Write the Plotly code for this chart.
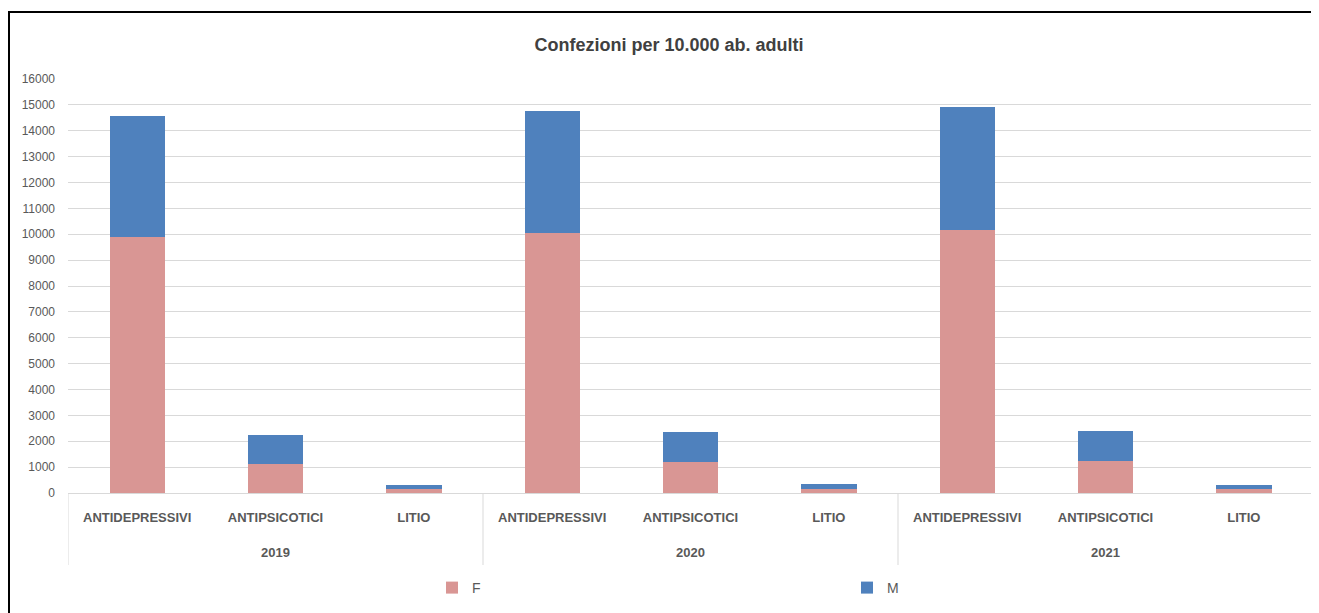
import plotly.graph_objects as go

years = ["2019", "2019", "2019", "2020", "2020", "2020", "2021", "2021", "2021"]
categories = ["ANTIDEPRESSIVI", "ANTIPSICOTICI", "LITIO"] * 3
f_values = [9900, 1130, 160, 10050, 1200, 150, 10160, 1225, 150]
m_values = [4670, 1110, 150, 4730, 1150, 195, 4755, 1185, 160]
year_labels = ["2019", "2020", "2021"]
y_ticks = list(range(0, 16001, 1000))

x_keys = [f"{y} {c}" for y, c in zip(years, categories)]
year_keys = [x_keys[years.index(y) + 1] for y in year_labels]

# page is drawn with an 8px body margin; work in figure coordinates
W, H = 1311, 605
L, R, T = 60, 6, 71
AXIS2_Y = 535          # figure y of the (invisible) year axis line
PLOT_BOTTOM = 485      # figure y of value 0
B = H - AXIS2_Y
ph = AXIS2_Y - T
dom0 = (AXIS2_Y - PLOT_BOTTOM) / ph
pw = W - L - R

def px2x(p):
    return (p - 8 - L) / pw

def px2y(p):
    return (AXIS2_Y - (p - 8)) / ph

font_fam = "Liberation Sans, Arial, sans-serif"

fig = go.Figure()
fig.add_trace(go.Bar(x=x_keys, y=f_values, name="F",
                     marker=dict(color="#d99694", line=dict(width=0))))
fig.add_trace(go.Bar(x=x_keys, y=m_values, name="M",
                     marker=dict(color="#4f81bd", line=dict(width=0))))
fig.add_trace(go.Scatter(x=x_keys, y=[0] * len(x_keys), xaxis="x2", mode="markers",
                         marker=dict(opacity=0), showlegend=False, hoverinfo="skip"))

# group dividers
for xb in [-0.5, 2.5, 5.5, 8.5]:
    fig.add_shape(type="line", xref="x", yref="paper", x0=xb, x1=xb,
                  y0=dom0, y1=px2y(565), line=dict(color="#d9d9d9", width=1))

# outer frame
fig.add_shape(type="rect", xref="paper", yref="paper",
              x0=px2x(9), x1=px2x(1315), y0=px2y(650), y1=px2y(12),
              line=dict(color="black", width=2), fillcolor="rgba(0,0,0,0)", layer="above")

fig.update_layout(
    width=W, height=H,
    margin=dict(l=L, r=R, t=T, b=B),
    paper_bgcolor="white", plot_bgcolor="white",
    barmode="stack", bargap=0.6,
    title=dict(text="<b>Confezioni per 10.000 ab. adulti</b>", x=px2x(669), xref="paper",
               xanchor="center", y=1 - (45 - 8) / H, yanchor="middle",
               font=dict(family=font_fam, size=18, color="#404040")),
    font=dict(family=font_fam, color="#595959"),
    legend=dict(orientation="h", x=px2x(432), xanchor="left", y=px2y(588), yanchor="middle",
                entrywidth=370, entrywidthmode="pixels",
                font=dict(size=14, color="#595959"), itemwidth=30, traceorder="normal"),
    xaxis=dict(type="category", categoryorder="array", categoryarray=x_keys,
               range=[-0.5, len(x_keys) - 0.5],
               tickvals=x_keys, ticktext=categories,
               showline=True, linecolor="#d9d9d9", linewidth=1,
               tickfont=dict(size=13, color="#595959", weight="bold"),
               ticks="", showgrid=False, ticklabelstandoff=12),
    xaxis2=dict(type="category", categoryorder="array", categoryarray=x_keys,
                range=[-0.5, len(x_keys) - 0.5], overlaying="x", anchor="free", position=0,
                side="bottom", tickvals=year_keys, ticktext=year_labels,
                tickfont=dict(size=13, color="#595959", weight="bold"),
                showline=False, ticks="", showgrid=False, zeroline=False),
    yaxis=dict(domain=[dom0, 1], range=[0, 16000], tickvals=y_ticks, tickformat="d",
               showgrid=True, gridcolor="#d9d9d9",
               gridwidth=1, zeroline=False, showline=False,
               tickfont=dict(size=12, color="#595959"),
               ticklabelstandoff=12),
)

fig.write_html("out.html")
